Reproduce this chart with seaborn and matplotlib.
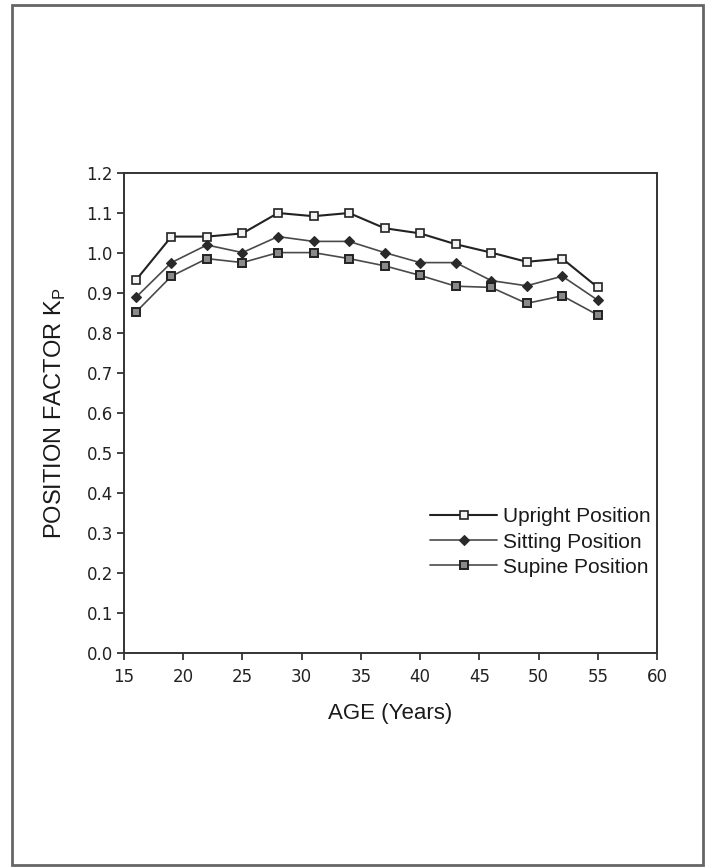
import matplotlib
matplotlib.use("Agg")
import matplotlib.pyplot as plt
import seaborn as sns
import pandas as pd
from matplotlib.patches import Rectangle

ages = [16, 19, 22, 25, 28, 31, 34, 37, 40, 43, 46, 49, 52, 55]
upright = [0.932, 1.041, 1.041, 1.049, 1.100, 1.092, 1.100, 1.062, 1.049, 1.022, 1.001, 0.978, 0.986, 0.914]
sitting = [0.889, 0.976, 1.020, 1.001, 1.041, 1.029, 1.029, 1.001, 0.976, 0.976, 0.931, 0.918, 0.942, 0.882]
supine = [0.852, 0.942, 0.986, 0.976, 1.001, 1.001, 0.986, 0.968, 0.944, 0.917, 0.914, 0.874, 0.893, 0.845]
series_names = ["Upright Position", "Sitting Position", "Supine Position"]
x_ticks = [15, 20, 25, 30, 35, 40, 45, 50, 55, 60]
y_ticks = [0.0, 0.1, 0.2, 0.3, 0.4, 0.5, 0.6, 0.7, 0.8, 0.9, 1.0, 1.1, 1.2]

sns.set_style("ticks")
plt.rcParams["font.family"] = ["Liberation Sans", "DejaVu Sans"]

fig = plt.figure(figsize=(7.09, 8.68), dpi=100)
ax = fig.add_axes([124 / 709, 1 - 653 / 868, 533 / 709, 480 / 868])

df = pd.DataFrame({"age": ages, "up": upright, "sit": sitting, "sup": supine})

sns.lineplot(data=df, x="age", y="up", ax=ax, color="#222222", lw=1.5,
             marker="s", markersize=6, markerfacecolor="#f2f2f2",
             markeredgecolor="#222222", markeredgewidth=1.2, label=series_names[0])
sns.lineplot(data=df, x="age", y="sit", ax=ax, color="#4a4a4a", lw=1.2,
             marker="D", markersize=5, markerfacecolor="#2a2a2a",
             markeredgecolor="#2a2a2a", markeredgewidth=0.8, label=series_names[1])
sns.lineplot(data=df, x="age", y="sup", ax=ax, color="#4a4a4a", lw=1.2,
             marker="s", markersize=6, markerfacecolor="#8a8a8a",
             markeredgecolor="#222222", markeredgewidth=1.4, label=series_names[2])

ax.set_xlim(15, 60)
ax.set_ylim(0.0, 1.2)
ax.set_xticks(x_ticks)
ax.set_yticks(y_ticks)
ax.set_xticklabels([str(v) for v in x_ticks], fontfamily="DejaVu Sans", fontsize=12)
ax.set_yticklabels([f"{v:.1f}" for v in y_ticks], fontfamily="DejaVu Sans", fontsize=12)
ax.tick_params(axis="x", direction="out", length=5, width=1.2, pad=6, colors="#222222")
ax.tick_params(axis="y", direction="out", length=5, width=1.2, pad=3, colors="#222222")

for s in ax.spines.values():
    s.set_visible(True)
    s.set_linewidth(1.4)
    s.set_color("#333333")

ax.set_xlabel("AGE (Years)", fontsize=16, color="#1a1a1a", labelpad=12)
ax.set_ylabel("POSITION FACTOR K$_\\mathregular{P}$", fontsize=17, color="#1a1a1a", labelpad=13)

leg = ax.legend(loc="center left", bbox_to_anchor=(420 / 709, 1 - 542 / 868),
                bbox_transform=fig.transFigure, frameon=False, fontsize=15,
                borderpad=0, handlelength=3.2, handletextpad=0.3, labelspacing=0.3)
for t in leg.get_texts():
    t.set_color("#1a1a1a")

fig.patches.append(Rectangle((12 / 709, 1 - 865 / 868), (703 - 12) / 709, (865 - 5) / 868,
                             transform=fig.transFigure, fill=False,
                             edgecolor="#666666", linewidth=2))

fig.savefig("out.png", dpi=100)
